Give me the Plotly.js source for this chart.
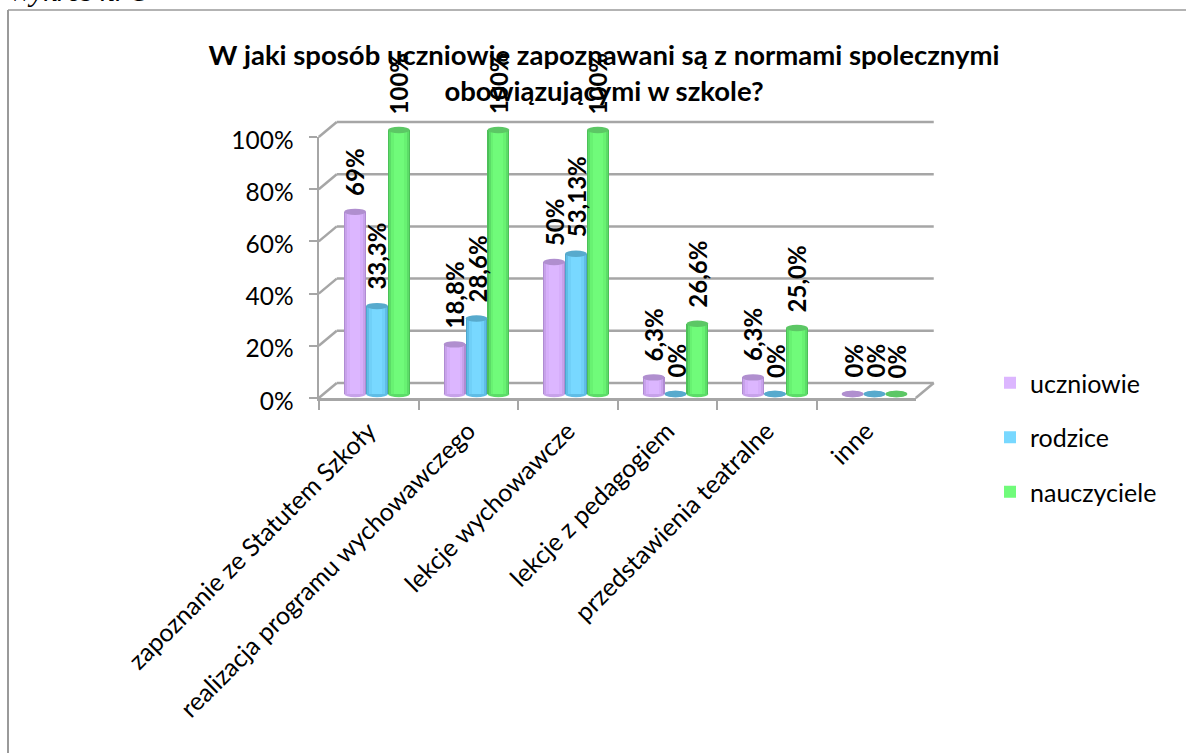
<!DOCTYPE html>
<html>
<head>
<meta charset="utf-8">
<script src="https://cdn.plot.ly/plotly-3.0.1.min.js"></script>
<style>html,body{margin:0;padding:0;background:#fff;overflow:hidden}</style>
</head>
<body>
<div id="chart" style="width:1186px;height:753px"></div>
<script>
const categories = ["zapoznanie ze Statutem Szkoły","realizacja programu wychowawczego","lekcje wychowawcze","lekcje z pedagogiem","przedstawienia teatralne","inne"];
const seriesNames = ["uczniowie","rodzice","nauczyciele"];
const uczniowie = [69,18.8,50,6.3,6.3,0];
const rodzice = [33.3,28.6,53.13,0,0,0];
const nauczyciele = [100,100,100,26.6,25,0];
const labelsUczniowie = ["69%","18,8%","50%","6,3%","6,3%","0%"];
const labelsRodzice = ["33,3%","28,6%","53,13%","0%","0%","0%"];
const labelsNauczyciele = ["100%","100%","100%","26,6%","25,0%","0%"];
const yTicks = [0,20,40,60,80,100];
const yTickLabels = ["0%","20%","40%","60%","80%","100%"];
const shades = [
  ["#b08bd2","#c7a2ea","#d6aefa","#dcb6ff"],
  ["#4ea6cc","#60bde6","#70d0f8","#78d8ff"],
  ["#4cc058","#5cdc68","#68f272","#70fb7a"]
];
const capColors = ["#b08fcf","#57aacd","#5cc765"];
const W=1186,H=753;
const series=[uczniowie,rodzice,nauczyciele];
const labels=[labelsUczniowie,labelsRodzice,labelsNauczyciele];
const pxX=99.5, pxY=2.61, barPxY=2.64;
const wx0=368.5, wy0=398;
const wallX=[(0-wx0)/pxX,(W-wx0)/pxX], wallY=[(wy0-H)/pxY,wy0/pxY];
const bx0=377, by0=394;
const barX=[(0-bx0)/pxX,(W-bx0)/pxX], barY=[(by0-H)/barPxY,by0/barPxY];
const offs=[-0.22,0,0.22], barW=0.22;
const widths=[1,0.9,0.72,0.45];
const traces=[{type:"scatter",mode:"none",x:categories,y:categories.map(()=>0),xaxis:"x",yaxis:"y",showlegend:false,hoverinfo:"skip"}];
const shapes=[], annotations=[];
const gray="#a6a6a6";
const dx=18/pxX, dy=15/pxY;
function wall(x0,y0,x1,y1){shapes.push({type:"line",xref:"x2",yref:"y2",x0,y0,x1,y1,layer:"below",line:{color:gray,width:2.5}});}
yTicks.forEach(v=>{
  wall(-0.5,v,-0.5+dx,v+dy);
  wall(-0.5+dx,v+dy,5.5+dx,v+dy);
});
wall(5.5,0,5.5+dx,dy);
series.forEach((vals,s)=>{
  shades[s].forEach((c,k)=>{
    traces.push({type:"bar",xaxis:"x3",yaxis:"y3",name:seriesNames[s],
      x:vals.map((_,i)=>i+offs[s]),y:vals,
      width:vals.map(()=>barW*widths[k]),
      marker:{color:c,line:{width:0}},
      legendgroup:seriesNames[s],showlegend:k===shades[s].length-1,hoverinfo:"skip"});
  });
  vals.forEach((v,i)=>{
    const cx=i+offs[s], hw=barW/2, eh=3.2/barPxY;
    shapes.push({type:"circle",xref:"x3",yref:"y3",x0:cx-hw,x1:cx+hw,y0:-eh,y1:eh,layer:"below",fillcolor:v>0?shades[s][1]:capColors[s],line:{width:0}});
    shapes.push({type:"circle",xref:"x3",yref:"y3",x0:cx-hw,x1:cx+hw,y0:v-eh,y1:v+eh,layer:"above",fillcolor:capColors[s],line:{width:0}});
    annotations.push({xref:"x3",yref:"y3",x:cx,y:v,text:labels[s][i],textangle:-90,showarrow:false,
      xanchor:"center",yanchor:"bottom",yshift:14,font:{family:"Lato",size:24,color:"#000",weight:700}});
  });
});
shapes.push({type:"line",xref:"paper",yref:"paper",x0:8/W,x1:1,y0:1-10/H,y1:1-10/H,line:{color:"#9a9a9a",width:1.5}});
shapes.push({type:"line",xref:"paper",yref:"paper",x0:8/W,x1:8/W,y0:0,y1:1-10/H,line:{color:"#9a9a9a",width:2}});
annotations.push({xref:"paper",yref:"paper",x:6/W,y:1-9/H,xanchor:"left",yanchor:"bottom",text:"<i>Wykres nr 3</i>",showarrow:false,font:{family:"Liberation Serif",size:30,color:"#000"}});
const layout={
  width:W,height:H,autosize:false,margin:{l:0,r:0,t:0,b:0,pad:0},
  paper_bgcolor:"#fff",plot_bgcolor:"rgba(0,0,0,0)",barmode:"overlay",bargap:0,
  font:{family:"Lato",color:"#000",size:25},
  title:{text:"W jaki sposób uczniowie zapoznawani są z normami spolecznymi<br>obowiązującymi w szkole?",x:604/W,xanchor:"center",y:1-65/H,yanchor:"top",font:{family:"Lato",size:27.5,weight:700,color:"#000"}},
  xaxis:{type:"category",domain:[319/W,916/W],anchor:"y",categoryorder:"array",categoryarray:categories,range:[-0.5,5.5],tickson:"boundaries",
    tickangle:-45,ticks:"outside",ticklen:9,tickwidth:2,tickcolor:gray,showline:true,linecolor:gray,linewidth:2.5,showgrid:false,zeroline:false,ticklabelstandoff:6,tickfont:{family:"Lato",size:25,color:"#000"}},
  yaxis:{domain:[1-398/H,1-137/H],anchor:"x",range:[0,100],tickmode:"array",tickvals:yTicks,ticktext:yTickLabels,ticks:"outside",ticklen:8,tickwidth:2,tickcolor:gray,showline:true,linecolor:gray,linewidth:2.5,showgrid:false,zeroline:false,ticklabelstandoff:10,ticklabelshift:3,tickfont:{family:"Lato",size:24.5,color:"#000"}},
  xaxis2:{domain:[0,1],range:wallX,visible:false,anchor:"y2"},
  yaxis2:{domain:[0,1],range:wallY,visible:false,anchor:"x2"},
  xaxis3:{domain:[0,1],range:barX,visible:false,anchor:"y3"},
  yaxis3:{domain:[0,1],range:barY,visible:false,anchor:"x3"},
  legend:{x:990/W,y:1-360/H,xanchor:"left",yanchor:"top",tracegroupgap:19,itemwidth:30,bgcolor:"rgba(0,0,0,0)",font:{family:"Lato",size:25,color:"#000"}},
  shapes,annotations,showlegend:true
};
traces.push({type:"scatter",mode:"none",x:[0],y:[0],xaxis:"x2",yaxis:"y2",showlegend:false,hoverinfo:"skip"});
Plotly.newPlot("chart",traces,layout,{displayModeBar:false,staticPlot:true});
</script>
</body>
</html>
